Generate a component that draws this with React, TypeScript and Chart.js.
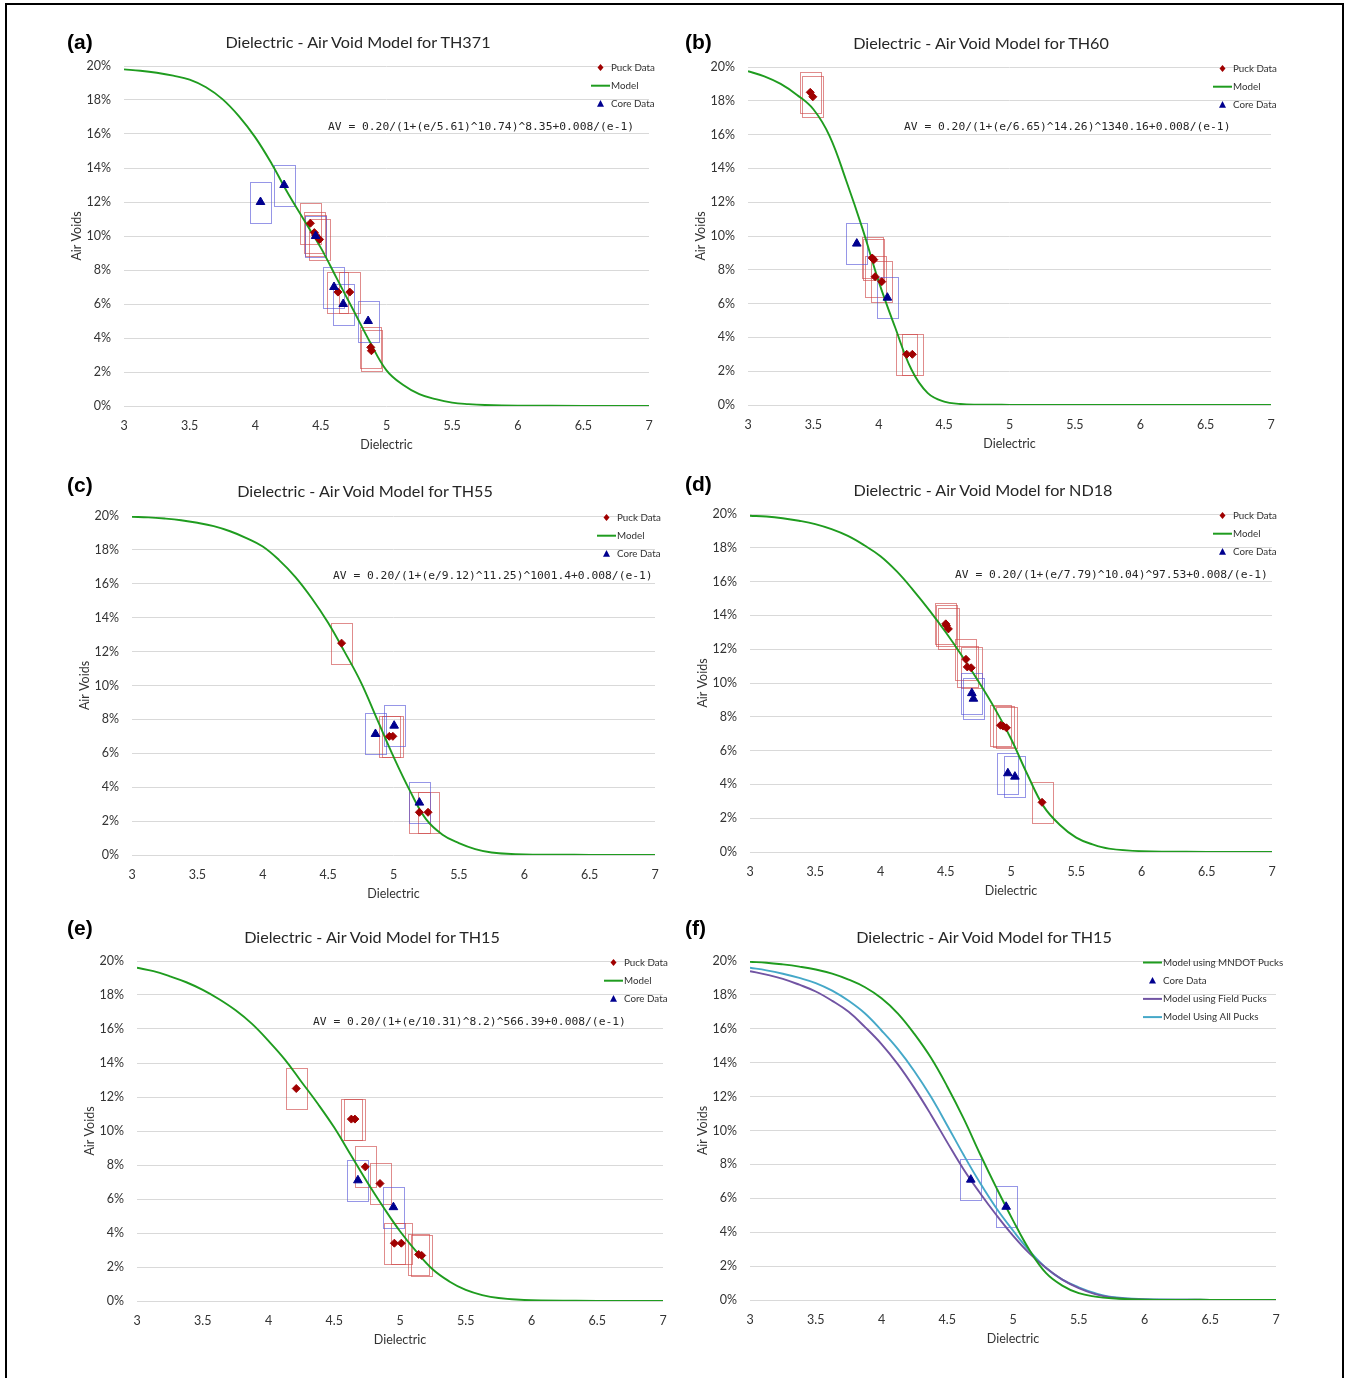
import React, { useEffect, useRef } from "react";
import { Chart, registerables } from "chart.js";
Chart.register(...registerables);

// ---------- shared axis values ----------
const X_MIN = 3;
const X_MAX = 7;
const X_STEP = 0.5;
const Y_MIN = 0;
const Y_MAX = 20;
const Y_STEP = 2;

// dielectric sample points used for the model curves
const modelE = [3, 3.125, 3.25, 3.375, 3.5, 3.625, 3.75, 3.875, 4, 4.125, 4.25, 4.375, 4.5, 4.625, 4.75, 4.875, 5, 5.125, 5.25, 5.375, 5.5, 5.625, 5.75, 6, 6.5, 7];
const modelE_b = [3, 3.125, 3.25, 3.375, 3.5, 3.625, 3.75, 3.875, 4, 4.125, 4.25, 4.375, 4.5, 4.625, 4.75, 5, 6, 7];

// ---------- (a) TH371 ----------
const a_modelAV = [19.8, 19.72, 19.6, 19.43, 19.2, 18.75, 18.05, 17.05, 15.8, 14.25, 12.5, 10.9, 9.3, 7.45, 5.6, 3.75, 2.1, 1.25, 0.7, 0.4, 0.2, 0.11, 0.06, 0.02, 0.01, 0.0];
const a_puckE = [4.42, 4.45, 4.46, 4.49, 4.63, 4.72, 4.88, 4.885];
const a_puckAV = [10.75, 10.2, 10.05, 9.8, 6.7, 6.7, 3.45, 3.25];
const a_coreE = [4.04, 4.22, 4.46, 4.6, 4.67, 4.86];
const a_coreAV = [12.0, 13.0, 10.0, 7.0, 6.0, 5.0];

// ---------- (b) TH60 ----------
const b_modelAV = [19.75, 19.45, 19.0, 18.35, 17.5, 15.9, 13.3, 10.45, 7.3, 4.6, 2.1, 0.7, 0.2, 0.06, 0.02, 0.01, 0.0, 0.0];
const b_puckE = [3.476, 3.496, 3.95, 3.962, 3.972, 4.023, 4.214, 4.257];
const b_puckAV = [18.5, 18.24, 8.7, 8.6, 7.59, 7.3, 3.0, 3.0];
const b_coreE = [3.832, 4.066];
const b_coreAV = [9.55, 6.35];

// ---------- (c) TH55 ----------
const c_modelAV = [19.95, 19.92, 19.85, 19.75, 19.6, 19.4, 19.1, 18.7, 18.2, 17.4, 16.4, 15.15, 13.7, 12.0, 10.2, 8.0, 5.8, 3.8, 2.1, 1.2, 0.7, 0.35, 0.15, 0.03, 0.01, 0.0];
const c_puckE = [4.603, 4.968, 4.995, 5.198, 5.264];
const c_puckAV = [12.5, 7.0, 7.0, 2.52, 2.52];
const c_coreE = [4.862, 5.005, 5.198];
const c_coreAV = [7.14, 7.63, 3.09];

// ---------- (d) ND18 ----------
const d_modelAV = [19.9, 19.85, 19.75, 19.6, 19.4, 19.1, 18.7, 18.15, 17.5, 16.6, 15.5, 14.3, 13.0, 11.6, 10.1, 8.5, 6.7, 4.6, 2.7, 1.6, 0.85, 0.45, 0.2, 0.05, 0.01, 0.0];
const d_puckE = [4.5, 4.505, 4.52, 4.655, 4.665, 4.695, 4.92, 4.94, 4.965, 5.238];
const d_puckAV = [13.5, 13.4, 13.2, 11.4, 10.95, 10.9, 7.5, 7.45, 7.35, 2.94];
const d_coreE = [4.7, 4.712, 4.976, 5.03];
const d_coreAV = [9.4, 9.07, 4.66, 4.46];

// ---------- (e) TH15 ----------
const e_modelAV = [19.6, 19.4, 19.1, 18.75, 18.3, 17.75, 17.1, 16.3, 15.3, 14.2, 12.9, 11.6, 10.2, 8.6, 7.0, 5.5, 4.1, 2.9, 1.85, 1.15, 0.65, 0.35, 0.18, 0.04, 0.01, 0.0];
const e_puckE = [4.211, 4.63, 4.657, 4.736, 4.848, 4.957, 5.01, 5.142, 5.165];
const e_puckAV = [12.5, 10.7, 10.7, 7.89, 6.91, 3.4, 3.4, 2.74, 2.68];
const e_coreE = [4.68, 4.95];
const e_coreAV = [7.1, 5.52];

// ---------- (f) TH15 model comparison ----------
const f_mndotAV = [19.95, 19.9, 19.8, 19.67, 19.5, 19.25, 18.9, 18.45, 17.8, 16.9, 15.7, 14.3, 12.6, 10.7, 8.6, 6.6, 4.7, 2.95, 1.6, 0.85, 0.4, 0.2, 0.1, 0.02, 0.01, 0.0];
const f_fieldAV = [19.4, 19.2, 18.95, 18.6, 18.2, 17.65, 17.0, 16.1, 15.1, 13.9, 12.5, 10.95, 9.3, 7.7, 6.3, 5.0, 3.8, 2.75, 1.9, 1.2, 0.7, 0.35, 0.15, 0.03, 0.01, 0.0];
const f_allAV = [19.6, 19.45, 19.25, 19.0, 18.7, 18.25, 17.65, 16.9, 15.9, 14.8, 13.5, 12.0, 10.3, 8.55, 6.9, 5.4, 4.1, 2.9, 1.9, 1.2, 0.75, 0.4, 0.18, 0.04, 0.01, 0.0];
const f_coreE = [4.679, 4.948];
const f_coreAV = [7.1, 5.5];

// ---------- text ----------
const EQ_A = "AV = 0.20/(1+(e/5.61)^10.74)^8.35+0.008/(e-1)";
const EQ_B = "AV = 0.20/(1+(e/6.65)^14.26)^1340.16+0.008/(e-1)";
const EQ_C = "AV = 0.20/(1+(e/9.12)^11.25)^1001.4+0.008/(e-1)";
const EQ_D = "AV = 0.20/(1+(e/7.79)^10.04)^97.53+0.008/(e-1)";
const EQ_E = "AV = 0.20/(1+(e/10.31)^8.2)^566.39+0.008/(e-1)";

// ---------- styles ----------
const GREEN = "#1f9c1f";
const PURPLE = "#7154a3";
const CYAN = "#45a8c8";
const PUCK = "#a00000";
const CORE = "#00008f";
const PUCK_BOX = "rgba(205,70,70,0.62)";
const CORE_BOX = "rgba(80,80,215,0.6)";
const TEXT = "#333333";
const FONT = "Lato, 'Open Sans', sans-serif";

type LegendItem = { kind: "line" | "diamond" | "triangle"; color: string; text: string };
type Line = { label: string; e: number[]; av: number[]; color: string };
type PanelSpec = {
  label: string;
  title: string;
  L: number; R: number; T: number; B: number;
  labelPos: [number, number];
  titlePos: [number, number];
  lines: Line[];
  puck?: { e: number[]; av: number[] };
  core?: { e: number[]; av: number[] };
  legend: LegendItem[];
  legendOffset: number;
  equation?: string;
  eqPos?: [number, number];
};

const STD_LEGEND: LegendItem[] = [
  { kind: "diamond", color: PUCK, text: "Puck Data" },
  { kind: "line", color: GREEN, text: "Model" },
  { kind: "triangle", color: CORE, text: "Core Data" },
];

const PANELS: PanelSpec[] = [
  {
    label: "(a)", title: "Dielectric - Air Void Model for TH371",
    L: 124, R: 649, T: 66, B: 406, labelPos: [67, 42], titlePos: [358, 42],
    lines: [{ label: "Model", e: modelE, av: a_modelAV, color: GREEN }],
    puck: { e: a_puckE, av: a_puckAV }, core: { e: a_coreE, av: a_coreAV },
    legend: STD_LEGEND, legendOffset: 58, equation: EQ_A, eqPos: [328, 127],
  },
  {
    label: "(b)", title: "Dielectric - Air Void Model for TH60",
    L: 748, R: 1271, T: 67, B: 405, labelPos: [685, 42], titlePos: [981, 43],
    lines: [{ label: "Model", e: modelE_b, av: b_modelAV, color: GREEN }],
    puck: { e: b_puckE, av: b_puckAV }, core: { e: b_coreE, av: b_coreAV },
    legend: STD_LEGEND, legendOffset: 58, equation: EQ_B, eqPos: [904, 127],
  },
  {
    label: "(c)", title: "Dielectric - Air Void Model for TH55",
    L: 132, R: 655, T: 516, B: 855, labelPos: [67, 485], titlePos: [365, 491],
    lines: [{ label: "Model", e: modelE, av: c_modelAV, color: GREEN }],
    puck: { e: c_puckE, av: c_puckAV }, core: { e: c_coreE, av: c_coreAV },
    legend: STD_LEGEND, legendOffset: 58, equation: EQ_C, eqPos: [333, 576],
  },
  {
    label: "(d)", title: "Dielectric - Air Void Model for ND18",
    L: 750, R: 1272, T: 514, B: 852, labelPos: [685, 484], titlePos: [983, 490],
    lines: [{ label: "Model", e: modelE, av: d_modelAV, color: GREEN }],
    puck: { e: d_puckE, av: d_puckAV }, core: { e: d_coreE, av: d_coreAV },
    legend: STD_LEGEND, legendOffset: 59, equation: EQ_D, eqPos: [955, 575],
  },
  {
    label: "(e)", title: "Dielectric - Air Void Model for TH15",
    L: 137, R: 663, T: 961, B: 1301, labelPos: [67, 928], titlePos: [372, 937],
    lines: [{ label: "Model", e: modelE, av: e_modelAV, color: GREEN }],
    puck: { e: e_puckE, av: e_puckAV }, core: { e: e_coreE, av: e_coreAV },
    legend: STD_LEGEND, legendOffset: 59, equation: EQ_E, eqPos: [313, 1022],
  },
  {
    label: "(f)", title: "Dielectric - Air Void Model for TH15",
    L: 750, R: 1276, T: 961, B: 1300, labelPos: [685, 928], titlePos: [984, 937],
    lines: [
      { label: "Model using MNDOT Pucks", e: modelE, av: f_mndotAV, color: GREEN },
      { label: "Model using Field Pucks", e: modelE, av: f_fieldAV, color: PURPLE },
      { label: "Model Using All Pucks", e: modelE, av: f_allAV, color: CYAN },
    ],
    core: { e: f_coreE, av: f_coreAV },
    legend: [
      { kind: "line", color: GREEN, text: "Model using MNDOT Pucks" },
      { kind: "triangle", color: CORE, text: "Core Data" },
      { kind: "line", color: PURPLE, text: "Model using Field Pucks" },
      { kind: "line", color: CYAN, text: "Model Using All Pucks" },
    ],
    legendOffset: 133,
  },
];

const Y_AXIS_W = 60;
const X_AXIS_H = 50;
const PAD_TOP = 26;
const PAD_RIGHT = 22;

function toPoints(e: number[], av: number[]) {
  return e.map((x, i) => ({ x, y: av[i] }));
}

const boxPlugin = {
  id: "pointBoxes",
  beforeDatasetsDraw(chart: any) {
    const ctx = chart.ctx;
    chart.data.datasets.forEach((ds: any, i: number) => {
      if (!ds.boxColor) return;
      const meta = chart.getDatasetMeta(i);
      ctx.save();
      ctx.strokeStyle = ds.boxColor;
      ctx.lineWidth = 1;
      meta.data.forEach((el: any) => {
        const x = Math.round(el.x - 10.5) + 0.5;
        const y = Math.round(el.y - 20.5) + 0.5;
        ctx.strokeRect(x, y, 21, 41);
      });
      ctx.restore();
    });
  },
};

function overlayPlugin(p: PanelSpec) {
  return {
    id: "overlay",
    afterDraw(chart: any) {
      const ctx = chart.ctx;
      const area = chart.chartArea;
      ctx.save();
      p.legend.forEach((it, i) => {
        const y = area.top + 1.5 + i * 18.2;
        const x0 = area.right - p.legendOffset;
        const cx = x0 + 9.5;
        ctx.fillStyle = it.color;
        ctx.strokeStyle = it.color;
        if (it.kind === "line") {
          ctx.lineWidth = 2;
          ctx.beginPath();
          ctx.moveTo(x0, y);
          ctx.lineTo(x0 + 19, y);
          ctx.stroke();
        } else if (it.kind === "diamond") {
          ctx.beginPath();
          ctx.moveTo(cx, y - 3.5);
          ctx.lineTo(cx + 3, y);
          ctx.lineTo(cx, y + 3.5);
          ctx.lineTo(cx - 3, y);
          ctx.closePath();
          ctx.fill();
        } else {
          ctx.beginPath();
          ctx.moveTo(cx, y - 3.8);
          ctx.lineTo(cx + 3.5, y + 2.8);
          ctx.lineTo(cx - 3.5, y + 2.8);
          ctx.closePath();
          ctx.fill();
        }
        ctx.fillStyle = TEXT;
        ctx.font = `9.8px ${FONT}`;
        ctx.textBaseline = "middle";
        ctx.textAlign = "left";
        ctx.fillText(it.text, x0 + 20, y);
      });
      if (p.equation && p.eqPos) {
        ctx.fillStyle = "#262626";
        ctx.font = `11.3px "DejaVu Sans Mono", monospace`;
        ctx.textBaseline = "middle";
        ctx.textAlign = "left";
        ctx.fillText(p.equation, area.left + (p.eqPos[0] - p.L), area.top + (p.eqPos[1] - p.T));
      }
      ctx.restore();
    },
  };
}

function buildConfig(p: PanelSpec): any {
  const datasets: any[] = [];
  p.lines.forEach((l) => {
    datasets.push({
      label: l.label,
      data: toPoints(l.e, l.av),
      showLine: true,
      borderColor: l.color,
      backgroundColor: l.color,
      borderWidth: 1.9,
      pointRadius: 0,
      tension: 0.4,
      order: 3,
    });
  });
  if (p.puck) {
    datasets.push({
      label: "Puck Data",
      data: toPoints(p.puck.e, p.puck.av),
      showLine: false,
      pointStyle: "rectRot",
      pointRadius: 4,
      borderWidth: 1,
      backgroundColor: PUCK,
      borderColor: PUCK,
      boxColor: PUCK_BOX,
      order: 1,
    });
  }
  if (p.core) {
    datasets.push({
      label: "Core Data",
      data: toPoints(p.core.e, p.core.av),
      showLine: false,
      pointStyle: "triangle",
      pointRadius: 5,
      borderWidth: 1,
      backgroundColor: CORE,
      borderColor: CORE,
      boxColor: CORE_BOX,
      order: 0,
    });
  }
  return {
    type: "scatter",
    data: { datasets },
    plugins: [boxPlugin, overlayPlugin(p)],
    options: {
      responsive: false,
      animation: false,
      devicePixelRatio: 1,
      events: [],
      layout: { padding: { top: PAD_TOP, right: PAD_RIGHT, bottom: 0, left: 0 } },
      plugins: {
        legend: { display: false },
        title: { display: false },
        tooltip: { enabled: false },
      },
      scales: {
        x: {
          type: "linear",
          min: X_MIN,
          max: X_MAX,
          grid: { display: false, drawTicks: false },
          border: { display: false },
          ticks: {
            stepSize: X_STEP,
            padding: 12,
            color: TEXT,
            font: { family: FONT, size: 12.5 },
            callback: (v: number) => String(v),
          },
          title: {
            display: true,
            text: "Dielectric",
            color: TEXT,
            font: { family: FONT, size: 12.5 },
            padding: { top: 0, bottom: 4 },
          },
          afterFit: (s: any) => { s.height = X_AXIS_H; },
        },
        y: {
          type: "linear",
          min: Y_MIN,
          max: Y_MAX,
          grid: { color: "#d9d9d9", lineWidth: 1, drawTicks: false },
          border: { display: false },
          ticks: {
            stepSize: Y_STEP,
            padding: 13,
            color: TEXT,
            font: { family: FONT, size: 12.5 },
            callback: (v: number) => `${v}%`,
          },
          title: {
            display: true,
            text: "Air Voids",
            color: TEXT,
            font: { family: FONT, size: 12.5 },
            padding: { top: 5, bottom: 0 },
          },
          afterFit: (s: any) => { s.width = Y_AXIS_W; },
        },
      },
    },
  };
}

function Panel({ p }: { p: PanelSpec }) {
  const ref = useRef<HTMLCanvasElement>(null);
  useEffect(() => {
    const chart = new Chart(ref.current as HTMLCanvasElement, buildConfig(p));
    return () => chart.destroy();
  }, [p]);
  const cl = p.L - Y_AXIS_W;
  const ct = p.T - PAD_TOP;
  const cw = p.R + PAD_RIGHT - cl;
  const ch = p.B + X_AXIS_H - ct;
  return (
    <>
      <canvas
        ref={ref}
        width={cw}
        height={ch}
        style={{ position: "absolute", left: cl, top: ct, width: cw, height: ch }}
      />
      <div
        style={{
          position: "absolute",
          left: p.labelPos[0],
          top: p.labelPos[1] - 13,
          fontFamily: "'Liberation Sans', Arial, sans-serif",
          fontWeight: "bold",
          fontSize: 21,
          lineHeight: "26px",
          color: "#000",
          whiteSpace: "nowrap",
        }}
      >
        {p.label}
      </div>
      <div
        style={{
          position: "absolute",
          left: p.titlePos[0] - 250,
          width: 500,
          top: p.titlePos[1] - 10,
          textAlign: "center",
          fontFamily: FONT,
          fontSize: 16.2,
          lineHeight: "20px",
          color: "#262626",
          whiteSpace: "nowrap",
        }}
      >
        {p.title}
      </div>
    </>
  );
}

export default function App() {
  return (
    <div
      style={{
        position: "absolute",
        left: 0,
        top: 0,
        width: 1345,
        height: 1378,
        overflow: "hidden",
        background: "#fff",
      }}
    >
      <div
        style={{
          position: "absolute",
          left: 5,
          top: 3,
          width: 1335,
          height: 1400,
          border: "2px solid #000",
        }}
      />
      {PANELS.map((p) => (
        <Panel key={p.label} p={p} />
      ))}
    </div>
  );
}
